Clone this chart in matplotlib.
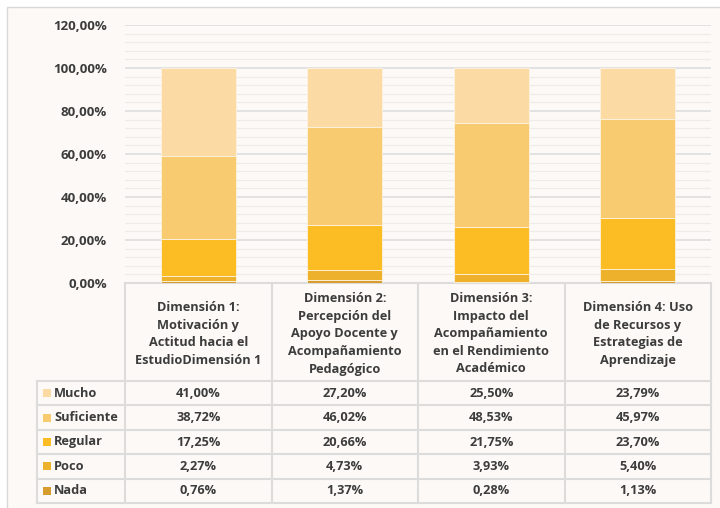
import numpy as np
import matplotlib
matplotlib.use("Agg")
import matplotlib.pyplot as plt
from matplotlib.patches import Rectangle

# Data
categories = [
    "Dimensión 1:\nMotivación y\nActitud hacia el\nEstudioDimensión 1",
    "Dimensión 2:\nPercepción del\nApoyo Docente y\nAcompañamiento\nPedagógico",
    "Dimensión 3:\nImpacto del\nAcompañamiento\nen el Rendimiento\nAcadémico",
    "Dimensión 4: Uso\nde Recursos y\nEstrategias de\nAprendizaje",
]
levels = ["Mucho", "Suficiente", "Regular", "Poco", "Nada"]
mucho = [41.00, 27.20, 25.50, 23.79]
suficiente = [38.72, 46.02, 48.53, 45.97]
regular = [17.25, 20.66, 21.75, 23.70]
poco = [2.27, 4.73, 3.93, 5.40]
nada = [0.76, 1.37, 0.28, 1.13]
y_ticks = [0, 20, 40, 60, 80, 100, 120]

colors = {
    "Mucho": "#FBDAA4",
    "Suficiente": "#F9CB70",
    "Regular": "#FBBC24",
    "Poco": "#EDB12C",
    "Nada": "#D69D2E",
}
series = {"Mucho": mucho, "Suficiente": suficiente, "Regular": regular,
          "Poco": poco, "Nada": nada}

plt.rcParams['font.family'] = ['Open Sans', 'DejaVu Sans']
text_color = "#3C3C3C"
bg = "#FCF9F6"
fs = 9.2

W, H = 720, 508
fig = plt.figure(figsize=(W / 100, H / 100), dpi=100)
fig.patch.set_facecolor("white")

# pixel-space overlay for frame and table
over = fig.add_axes([0, 0, 1, 1], zorder=0)
over.set_xlim(0, W)
over.set_ylim(H, 0)
over.axis("off")
over.add_patch(Rectangle((7, 7), W + 10, H + 10, facecolor=bg,
                         edgecolor="#D9D9D9", linewidth=1))

# column geometry (pixels)
x0, x_leg = 125, 37
x1 = 711
col_w = (x1 - x0) / len(categories)
y_top, y_zero = 25, 283

ax = fig.add_axes([x0 / W, 1 - y_zero / H, (x1 - x0) / W, (y_zero - y_top) / H],
                  zorder=1)
ax.set_facecolor("none")
x = np.arange(len(categories))
bottom = np.zeros(len(categories))
for name in levels[::-1]:
    vals = np.array(series[name])
    ax.bar(x, vals, width=0.51, bottom=bottom, color=colors[name],
           edgecolor="#FDF3E0", linewidth=0.6, zorder=3)
    bottom += vals

ax.set_xlim(-0.5, len(categories) - 0.5)
ax.set_ylim(0, 120)
ax.set_yticks(y_ticks)
ax.set_yticks(np.arange(0, 121, 4), minor=True)
ax.set_yticklabels([f"{v:.2f}%".replace(".", ",") for v in y_ticks],
                   fontsize=fs + 0.3, fontweight="bold", color=text_color)
ax.tick_params(axis="y", which="both", length=0, pad=13)
ax.set_xticks([])
ax.grid(axis="y", which="major", color="#DCDCDC", linewidth=1.1, zorder=0)
ax.grid(axis="y", which="minor", color="#EEEBE8", linewidth=0.9, zorder=0)
for s in ax.spines.values():
    s.set_visible(False)

# data table
row_h = 24.4
y_head_bot = 381
lc = "#DCDCDC"
over.plot([x0, x1], [y_zero, y_zero], color=lc, lw=1.5)
n_rows = len(levels)
y_bot = y_head_bot + n_rows * row_h
for i in range(n_rows + 1):
    yy = y_head_bot + i * row_h
    over.plot([x_leg, x1], [yy, yy], color=lc, lw=1.5)
over.plot([x_leg, x_leg], [y_head_bot, y_bot], color=lc, lw=1.5)
for j in range(len(categories) + 1):
    xx = x0 + j * col_w
    over.plot([xx, xx], [y_zero, y_bot], color=lc, lw=1.5)

for j, cat in enumerate(categories):
    over.text(x0 + (j + 0.5) * col_w, (y_zero + y_head_bot) / 2 + 2, cat,
              ha="center", va="center", fontsize=fs, fontweight="bold",
              color=text_color, linespacing=1.45)

for i, name in enumerate(levels):
    yc = y_head_bot + (i + 0.5) * row_h
    over.add_patch(Rectangle((43, yc - 4), 8, 8, facecolor=colors[name],
                             edgecolor="none"))
    over.text(54, yc, name, ha="left", va="center", fontsize=fs,
              fontweight="bold", color=text_color)
    for j, v in enumerate(series[name]):
        over.text(x0 + (j + 0.5) * col_w, yc, f"{v:.2f}%".replace(".", ","),
                  ha="center", va="center", fontsize=fs, fontweight="bold",
                  color=text_color)

fig.savefig("out.png", dpi=100, facecolor=fig.get_facecolor())
